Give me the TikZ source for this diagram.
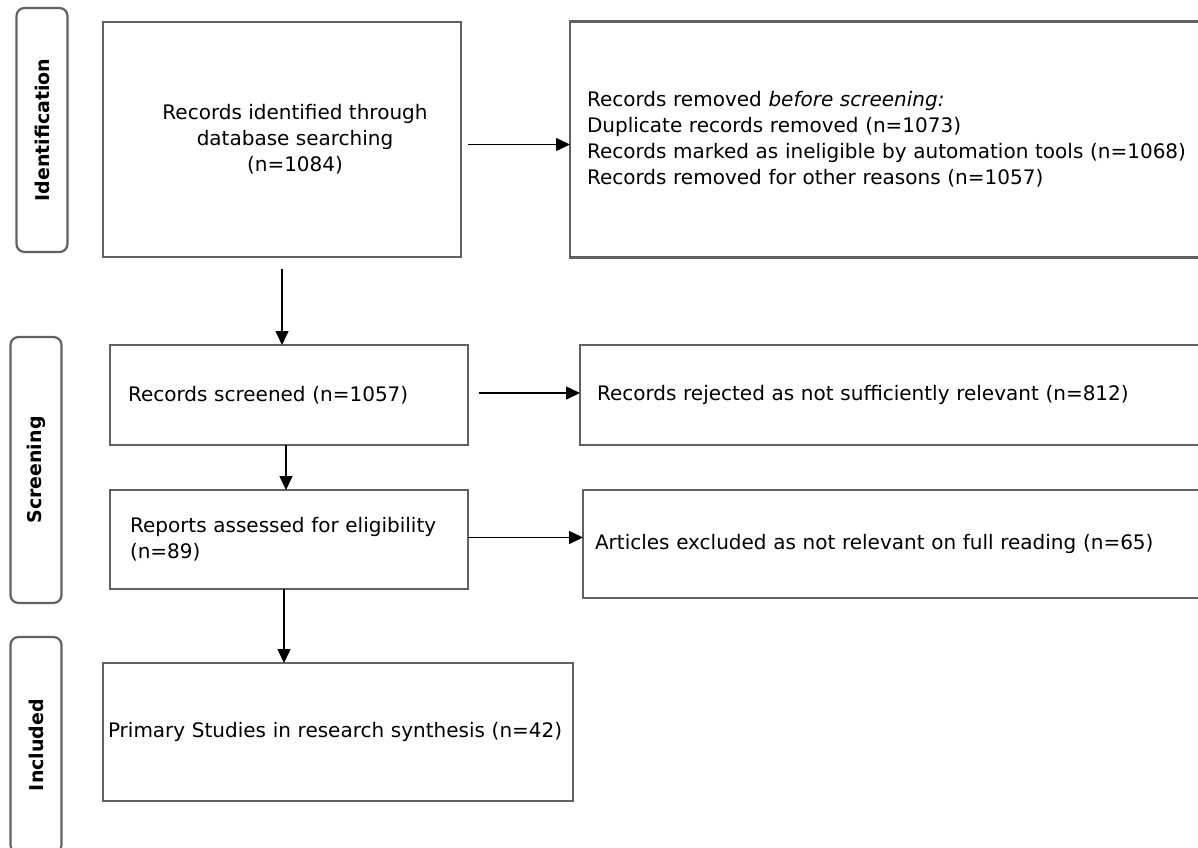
\documentclass[tikz,border=0pt]{standalone}
\usepackage{fontspec}
\setmainfont{DejaVu Sans}
\usepackage{tikz}
\usetikzlibrary{positioning,arrows.meta}

\begin{document}
\begin{tikzpicture}[x=1pt, y=1pt,
  stagebox/.style={rectangle, draw=black!62, line width=2.2pt, rounded corners=8pt, rotate=90, minimum height=51pt, inner sep=0pt, font=\fontsize{19}{22}\selectfont\bfseries},
  flowbox/.style={rectangle, draw=black!62, line width=2.2pt, outer sep=0pt, font=\fontsize{20}{26}\selectfont},
  arrow/.style={-{Triangle[length=14pt, width=13pt]}, line width=1.5pt}
  ]
  \useasboundingbox (0,0) rectangle (1198,-847);
  \clip (0,0) rectangle (1198,-847);
  \node[stagebox, minimum width=244pt] (ident) at (42,-130) {Identification};
  \node[stagebox, minimum width=266pt] (screen) at (36,-470) {Screening};
  \node[stagebox, minimum width=216pt] (incl) at (36,-745) {Included};
  \node[flowbox, minimum width=358pt, minimum height=235pt, align=center] (idrec) at (282,-139.5) {\hspace*{26pt}Records identified through\\\hspace*{26pt}database searching\\\hspace*{26pt}(n=1084)};
  \node[flowbox, right=109pt of idrec, minimum height=236pt, text width=606pt, inner xsep=17pt, align=left] (removed) {Records removed \textit{before screening:}\\Duplicate records removed (n=1073)\\Records marked as ineligible by automation tools (n=1068)\\Records removed for other reasons (n=1057)};
  \node[flowbox, below=88pt of idrec, xshift=7pt, minimum height=100pt, text width=322pt, inner xsep=18pt, align=left] (screened) {Records screened (n=1057)};
  \node[flowbox, below=45pt of screened, minimum height=99pt, text width=318pt, inner xsep=20pt, align=left] (assessed) {Reports assessed for eligibility\\(n=89)};
  \node[flowbox, below=74pt of assessed, xshift=49pt, minimum height=138pt, text width=460pt, inner xsep=5pt, align=left] (primary) {Primary Studies in research synthesis (n=42)};
  \node[flowbox, right=112pt of screened, minimum height=100pt, text width=596pt, inner xsep=17pt, align=left] (rejected) {Records rejected as not sufficiently relevant (n=812)};
  \node[flowbox, right=115pt of assessed, yshift=-4.5pt, minimum height=108pt, text width=603pt, inner xsep=12pt, align=left] (excluded) {Articles excluded as not relevant on full reading (n=65)};
  \draw[arrow] ([xshift=7pt, yshift=-5pt]idrec.east) -- ([yshift=-5pt]idrec.east -| removed.west);
  \draw[arrow] ([yshift=-12pt]idrec.south) -- (idrec.south |- screened.north);
  \draw[arrow] ([xshift=11pt, yshift=2pt]screened.east) -- ([yshift=2pt]screened.east -| rejected.west);
  \draw[arrow] ([xshift=-3pt]screened.south) -- ([xshift=-3pt]screened.south |- assessed.north);
  \draw[arrow] ([yshift=2pt]assessed.east) -- ([yshift=2pt]assessed.east -| excluded.west);
  \draw[arrow] ([xshift=-5pt]assessed.south) -- ([xshift=-5pt]assessed.south |- primary.north);
\end{tikzpicture}
\end{document}
